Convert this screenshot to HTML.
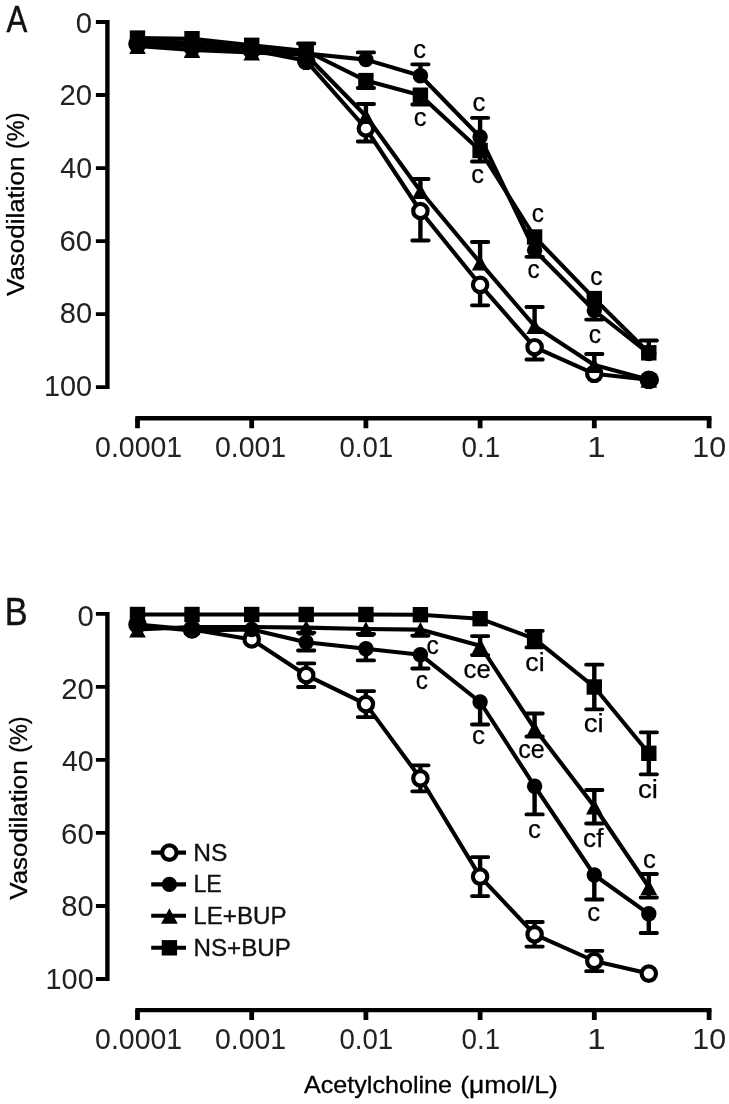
<!DOCTYPE html>
<html><head><meta charset="utf-8"><title>Vasodilation</title>
<style>html,body{margin:0;padding:0;background:#fff}svg{display:block;filter:grayscale(1) blur(0.7px)}text{font-family:"Liberation Sans",sans-serif}</style>
</head><body>
<svg width="729" height="1104" viewBox="0 0 729 1104" font-family="Liberation Sans, sans-serif" fill="#111">
<rect width="729" height="1104" fill="#fff"/>
<path d="M107.4 20.1V389.1" fill="none" stroke="#000" stroke-width="4.4"/>
<path d="M95.9 22.0H107.4M95.9 95.0H107.4M95.9 168.1H107.4M95.9 241.1H107.4M95.9 314.2H107.4M95.9 387.2H107.4" fill="none" stroke="#000" stroke-width="3.8"/>
<text x="75.86" y="32.75" font-size="29.5" textLength="16.29" lengthAdjust="spacingAndGlyphs" fill="#222">0</text>
<text x="59.53" y="105.41" font-size="29.5" textLength="32.62" lengthAdjust="spacingAndGlyphs" fill="#222">20</text>
<text x="60.34" y="178.07" font-size="29.5" textLength="31.78" lengthAdjust="spacingAndGlyphs" fill="#222">40</text>
<text x="59.50" y="250.73" font-size="29.5" textLength="32.65" lengthAdjust="spacingAndGlyphs" fill="#222">60</text>
<text x="59.75" y="323.39" font-size="29.5" textLength="32.40" lengthAdjust="spacingAndGlyphs" fill="#222">80</text>
<text x="43.90" y="396.05" font-size="29.5" textLength="48.24" lengthAdjust="spacingAndGlyphs" fill="#222">100</text>
<path d="M135.3 418.3H711.5" fill="none" stroke="#000" stroke-width="4.4"/>
<path d="M137.5 418.3V428.3M251.7 418.3V428.3M365.9 418.3V428.3M480.1 418.3V428.3M594.3 418.3V428.3M709.1 418.3V428.3" fill="none" stroke="#000" stroke-width="4.8"/>
<text x="95.09" y="457.15" font-size="29.5" textLength="87.02" lengthAdjust="spacingAndGlyphs" fill="#222">0.0001</text>
<text x="214.99" y="457.15" font-size="29.5" textLength="71.22" lengthAdjust="spacingAndGlyphs" fill="#222">0.001</text>
<text x="339.42" y="457.15" font-size="29.5" textLength="53.74" lengthAdjust="spacingAndGlyphs" fill="#222">0.01</text>
<text x="461.52" y="457.15" font-size="29.5" textLength="38.65" lengthAdjust="spacingAndGlyphs" fill="#222">0.1</text>
<text x="587.20" y="457.15" font-size="29.5" textLength="18.32" lengthAdjust="spacingAndGlyphs" fill="#222">1</text>
<text x="692.39" y="457.15" font-size="29.5" textLength="33.80" lengthAdjust="spacingAndGlyphs" fill="#222">10</text>
<text x="6.4" y="31.9" font-size="37" text-anchor="start" textLength="20.8" lengthAdjust="spacingAndGlyphs" stroke="#111" stroke-width="0.45">A</text>
<g transform="translate(24.2 295.8) rotate(-90)">
<text x="-0.13" y="0.00" font-size="23.5" textLength="139.32" lengthAdjust="spacingAndGlyphs" fill="#000" stroke="#000" stroke-width="0.3">Vasodilation</text>
<text x="146.74" y="0.00" font-size="23.5" textLength="36.52" lengthAdjust="spacingAndGlyphs" fill="#000" stroke="#000" stroke-width="0.3">(%)</text>
</g>
<path d="M365.9 128.5V141.5M420.4 211.0V240.5M480.1 284.8V305.3M534.6 347.2V359.5" fill="none" stroke="#000" stroke-width="4.4"/>
<path d="M357.7 141.5H374.1M412.2 240.5H428.6M471.9 305.3H488.3M526.4 359.5H542.8" fill="none" stroke="#000" stroke-width="3.8" stroke-linecap="round"/>
<polyline points="137.5,43.8 192.0,46.3 251.7,50.0 306.2,60.8 365.9,128.5 420.4,211.0 480.1,284.8 534.6,347.2 594.3,373.8 648.8,379.8" fill="none" stroke="#000" stroke-width="4.1" stroke-linejoin="round"/>
<circle cx="137.5" cy="43.8" r="7.2" fill="#fff" stroke="#000" stroke-width="4.2"/>
<circle cx="192.0" cy="46.3" r="7.2" fill="#fff" stroke="#000" stroke-width="4.2"/>
<circle cx="251.7" cy="50.0" r="7.2" fill="#fff" stroke="#000" stroke-width="4.2"/>
<circle cx="306.2" cy="60.8" r="7.2" fill="#fff" stroke="#000" stroke-width="4.2"/>
<circle cx="365.9" cy="128.5" r="7.2" fill="#fff" stroke="#000" stroke-width="4.2"/>
<circle cx="420.4" cy="211.0" r="7.2" fill="#fff" stroke="#000" stroke-width="4.2"/>
<circle cx="480.1" cy="284.8" r="7.2" fill="#fff" stroke="#000" stroke-width="4.2"/>
<circle cx="534.6" cy="347.2" r="7.2" fill="#fff" stroke="#000" stroke-width="4.2"/>
<circle cx="594.3" cy="373.8" r="7.2" fill="#fff" stroke="#000" stroke-width="4.2"/>
<circle cx="648.8" cy="379.8" r="7.2" fill="#fff" stroke="#000" stroke-width="4.2"/>
<path d="M306.2 53.5V43.5M365.9 59.6V52.4M420.4 75.8V64.3M480.1 137.0V117.8" fill="none" stroke="#000" stroke-width="4.4"/>
<path d="M298.0 43.5H314.4M357.7 52.4H374.1M412.2 64.3H428.6M471.9 117.8H488.3" fill="none" stroke="#000" stroke-width="3.8" stroke-linecap="round"/>
<polyline points="137.5,41.0 192.0,42.5 251.7,47.5 306.2,53.5 365.9,59.6 420.4,75.8 480.1,137.0 534.6,250.3 594.3,310.5 648.8,353.5" fill="none" stroke="#000" stroke-width="4.1" stroke-linejoin="round"/>
<circle cx="137.5" cy="41.0" r="7.7" fill="#000"/>
<circle cx="192.0" cy="42.5" r="7.7" fill="#000"/>
<circle cx="251.7" cy="47.5" r="7.7" fill="#000"/>
<circle cx="306.2" cy="53.5" r="7.7" fill="#000"/>
<circle cx="365.9" cy="59.6" r="7.7" fill="#000"/>
<circle cx="420.4" cy="75.8" r="7.7" fill="#000"/>
<circle cx="480.1" cy="137.0" r="7.7" fill="#000"/>
<circle cx="534.6" cy="250.3" r="7.7" fill="#000"/>
<circle cx="594.3" cy="310.5" r="7.7" fill="#000"/>
<circle cx="648.8" cy="353.5" r="7.7" fill="#000"/>
<path d="M365.9 116.0V104.0M420.4 191.0V179.0M480.1 262.6V242.0M534.6 326.0V307.0M594.3 365.0V354.0" fill="none" stroke="#000" stroke-width="4.4"/>
<path d="M357.7 104.0H374.1M412.2 179.0H428.6M471.9 242.0H488.3M526.4 307.0H542.8M586.1 354.0H602.5" fill="none" stroke="#000" stroke-width="3.8" stroke-linecap="round"/>
<polyline points="137.5,46.0 192.0,50.0 251.7,52.5 306.2,55.0 365.9,116.0 420.4,191.0 480.1,262.6 534.6,326.0 594.3,365.0 648.8,379.8" fill="none" stroke="#000" stroke-width="4.1" stroke-linejoin="round"/>
<path d="M137.5 38.4L145.8 54.0H129.2Z" fill="#000"/>
<path d="M192.0 42.4L200.3 58.0H183.7Z" fill="#000"/>
<path d="M251.7 44.9L260.0 60.5H243.4Z" fill="#000"/>
<path d="M306.2 47.4L314.5 63.0H297.9Z" fill="#000"/>
<path d="M365.9 108.4L374.2 124.0H357.6Z" fill="#000"/>
<path d="M420.4 183.4L428.7 199.0H412.1Z" fill="#000"/>
<path d="M480.1 255.0L488.4 270.6H471.8Z" fill="#000"/>
<path d="M534.6 318.4L542.9 334.0H526.3Z" fill="#000"/>
<path d="M594.3 357.4L602.6 373.0H586.0Z" fill="#000"/>
<path d="M648.8 372.2L657.1 387.8H640.5Z" fill="#000"/>
<path d="M365.9 80.6V88.0M420.4 95.2V104.5M480.1 150.5V161.5M534.6 237.0V256.8M594.3 298.6V319.6M648.8 352.8V340.5" fill="none" stroke="#000" stroke-width="4.4"/>
<path d="M357.7 88.0H374.1M412.2 104.5H428.6M471.9 161.5H488.3M526.4 256.8H542.8M586.1 319.6H602.5M640.6 340.5H657.0" fill="none" stroke="#000" stroke-width="3.8" stroke-linecap="round"/>
<polyline points="137.5,38.1 192.0,38.7 251.7,45.3 306.2,51.0 365.9,80.6 420.4,95.2 480.1,150.5 534.6,237.0 594.3,298.6 648.8,352.8" fill="none" stroke="#000" stroke-width="4.1" stroke-linejoin="round"/>
<rect x="129.8" y="30.4" width="15.4" height="15.4" fill="#000"/>
<rect x="184.3" y="31.0" width="15.4" height="15.4" fill="#000"/>
<rect x="244.0" y="37.6" width="15.4" height="15.4" fill="#000"/>
<rect x="298.5" y="43.3" width="15.4" height="15.4" fill="#000"/>
<rect x="358.2" y="72.9" width="15.4" height="15.4" fill="#000"/>
<rect x="412.7" y="87.5" width="15.4" height="15.4" fill="#000"/>
<rect x="472.4" y="142.8" width="15.4" height="15.4" fill="#000"/>
<rect x="526.9" y="229.3" width="15.4" height="15.4" fill="#000"/>
<rect x="586.6" y="290.9" width="15.4" height="15.4" fill="#000"/>
<rect x="641.1" y="345.1" width="15.4" height="15.4" fill="#000"/>
<circle cx="650.2" cy="379.8" r="8.8" fill="#000"/>
<circle cx="306.2" cy="60.8" r="6" fill="#000"/>
<text x="413.33" y="57.50" font-size="25.5" textLength="12.73" lengthAdjust="spacingAndGlyphs" fill="#000" stroke="#000" stroke-width="0.25">c</text>
<text x="413.73" y="126.30" font-size="25.5" textLength="12.73" lengthAdjust="spacingAndGlyphs" fill="#000" stroke="#000" stroke-width="0.25">c</text>
<text x="472.62" y="111.20" font-size="25.5" textLength="12.85" lengthAdjust="spacingAndGlyphs" fill="#000" stroke="#000" stroke-width="0.25">c</text>
<text x="471.23" y="182.50" font-size="25.5" textLength="12.73" lengthAdjust="spacingAndGlyphs" fill="#000" stroke="#000" stroke-width="0.25">c</text>
<text x="531.78" y="222.20" font-size="25.5" textLength="12.15" lengthAdjust="spacingAndGlyphs" fill="#000" stroke="#000" stroke-width="0.25">c</text>
<text x="527.48" y="278.30" font-size="25.5" textLength="12.15" lengthAdjust="spacingAndGlyphs" fill="#000" stroke="#000" stroke-width="0.25">c</text>
<text x="590.27" y="285.00" font-size="25.5" textLength="12.27" lengthAdjust="spacingAndGlyphs" fill="#000" stroke="#000" stroke-width="0.25">c</text>
<text x="588.87" y="343.00" font-size="25.5" textLength="12.27" lengthAdjust="spacingAndGlyphs" fill="#000" stroke="#000" stroke-width="0.25">c</text>
<path d="M107.4 611.9V980.9" fill="none" stroke="#000" stroke-width="4.4"/>
<path d="M95.9 613.8H107.4M95.9 686.8H107.4M95.9 759.9H107.4M95.9 832.9H107.4M95.9 906.0H107.4M95.9 979.0H107.4" fill="none" stroke="#000" stroke-width="3.8"/>
<text x="77.46" y="625.85" font-size="29.5" textLength="16.29" lengthAdjust="spacingAndGlyphs" fill="#222">0</text>
<text x="61.13" y="698.51" font-size="29.5" textLength="32.62" lengthAdjust="spacingAndGlyphs" fill="#222">20</text>
<text x="61.94" y="771.17" font-size="29.5" textLength="31.78" lengthAdjust="spacingAndGlyphs" fill="#222">40</text>
<text x="61.10" y="843.83" font-size="29.5" textLength="32.65" lengthAdjust="spacingAndGlyphs" fill="#222">60</text>
<text x="61.35" y="916.49" font-size="29.5" textLength="32.40" lengthAdjust="spacingAndGlyphs" fill="#222">80</text>
<text x="45.50" y="989.15" font-size="29.5" textLength="48.24" lengthAdjust="spacingAndGlyphs" fill="#222">100</text>
<path d="M135.3 1010.1H711.5" fill="none" stroke="#000" stroke-width="4.4"/>
<path d="M137.5 1010.1V1020.1M251.7 1010.1V1020.1M365.9 1010.1V1020.1M480.1 1010.1V1020.1M594.3 1010.1V1020.1M709.1 1010.1V1020.1" fill="none" stroke="#000" stroke-width="4.8"/>
<text x="95.09" y="1049.25" font-size="29.5" textLength="87.02" lengthAdjust="spacingAndGlyphs" fill="#222">0.0001</text>
<text x="214.99" y="1049.25" font-size="29.5" textLength="71.22" lengthAdjust="spacingAndGlyphs" fill="#222">0.001</text>
<text x="339.42" y="1049.25" font-size="29.5" textLength="53.74" lengthAdjust="spacingAndGlyphs" fill="#222">0.01</text>
<text x="461.52" y="1049.25" font-size="29.5" textLength="38.65" lengthAdjust="spacingAndGlyphs" fill="#222">0.1</text>
<text x="587.20" y="1049.25" font-size="29.5" textLength="18.32" lengthAdjust="spacingAndGlyphs" fill="#222">1</text>
<text x="692.39" y="1049.25" font-size="29.5" textLength="33.80" lengthAdjust="spacingAndGlyphs" fill="#222">10</text>
<text x="4.7" y="625" font-size="38" text-anchor="start" textLength="22.8" lengthAdjust="spacingAndGlyphs" stroke="#111" stroke-width="0.45">B</text>
<g transform="translate(26.5 899.6) rotate(-90)">
<text x="-0.13" y="0.00" font-size="23.5" textLength="139.32" lengthAdjust="spacingAndGlyphs" fill="#000" stroke="#000" stroke-width="0.3">Vasodilation</text>
<text x="146.74" y="0.00" font-size="23.5" textLength="36.52" lengthAdjust="spacingAndGlyphs" fill="#000" stroke="#000" stroke-width="0.3">(%)</text>
</g>
<path d="M306.2 675.2V663.4M306.2 675.2V687.0M365.9 704.1V691.1M365.9 704.1V717.1M420.4 778.3V765.3M420.4 778.3V791.3M480.1 876.6V857.1M480.1 876.6V896.1M534.6 934.3V922.0M534.6 934.3V946.6M594.3 961.0V950.8M594.3 961.0V971.2" fill="none" stroke="#000" stroke-width="4.4"/>
<path d="M298.0 663.4H314.4M298.0 687.0H314.4M357.7 691.1H374.1M357.7 717.1H374.1M412.2 765.3H428.6M412.2 791.3H428.6M471.9 857.1H488.3M471.9 896.1H488.3M526.4 922.0H542.8M526.4 946.6H542.8M586.1 950.8H602.5M586.1 971.2H602.5" fill="none" stroke="#000" stroke-width="3.8" stroke-linecap="round"/>
<polyline points="137.5,624.5 192.0,629.5 251.7,639.4 306.2,675.2 365.9,704.1 420.4,778.3 480.1,876.6 534.6,934.3 594.3,961.0 648.8,973.6" fill="none" stroke="#000" stroke-width="4.1" stroke-linejoin="round"/>
<circle cx="137.5" cy="624.5" r="7.2" fill="#fff" stroke="#000" stroke-width="4.2"/>
<circle cx="192.0" cy="629.5" r="7.2" fill="#fff" stroke="#000" stroke-width="4.2"/>
<circle cx="251.7" cy="639.4" r="7.2" fill="#fff" stroke="#000" stroke-width="4.2"/>
<circle cx="306.2" cy="675.2" r="7.2" fill="#fff" stroke="#000" stroke-width="4.2"/>
<circle cx="365.9" cy="704.1" r="7.2" fill="#fff" stroke="#000" stroke-width="4.2"/>
<circle cx="420.4" cy="778.3" r="7.2" fill="#fff" stroke="#000" stroke-width="4.2"/>
<circle cx="480.1" cy="876.6" r="7.2" fill="#fff" stroke="#000" stroke-width="4.2"/>
<circle cx="534.6" cy="934.3" r="7.2" fill="#fff" stroke="#000" stroke-width="4.2"/>
<circle cx="594.3" cy="961.0" r="7.2" fill="#fff" stroke="#000" stroke-width="4.2"/>
<circle cx="648.8" cy="973.6" r="7.2" fill="#fff" stroke="#000" stroke-width="4.2"/>
<path d="M306.2 642.3V650.5M365.9 648.8V660.4M420.4 654.7V668.5M480.1 702.0V724.5M534.6 786.2V814.4M594.3 875.0V899.5M648.8 913.8V933.0" fill="none" stroke="#000" stroke-width="4.4"/>
<path d="M298.0 650.5H314.4M357.7 660.4H374.1M412.2 668.5H428.6M471.9 724.5H488.3M526.4 814.4H542.8M586.1 899.5H602.5M640.6 933.0H657.0" fill="none" stroke="#000" stroke-width="3.8" stroke-linecap="round"/>
<polyline points="137.5,625.5 192.0,630.5 251.7,629.5 306.2,642.3 365.9,648.8 420.4,654.7 480.1,702.0 534.6,786.2 594.3,875.0 648.8,913.8" fill="none" stroke="#000" stroke-width="4.1" stroke-linejoin="round"/>
<circle cx="137.5" cy="625.5" r="7.7" fill="#000"/>
<circle cx="192.0" cy="630.5" r="7.7" fill="#000"/>
<circle cx="251.7" cy="629.5" r="7.7" fill="#000"/>
<circle cx="306.2" cy="642.3" r="7.7" fill="#000"/>
<circle cx="365.9" cy="648.8" r="7.7" fill="#000"/>
<circle cx="420.4" cy="654.7" r="7.7" fill="#000"/>
<circle cx="480.1" cy="702.0" r="7.7" fill="#000"/>
<circle cx="534.6" cy="786.2" r="7.7" fill="#000"/>
<circle cx="594.3" cy="875.0" r="7.7" fill="#000"/>
<circle cx="648.8" cy="913.8" r="7.7" fill="#000"/>
<path d="M306.2 627.6V632.6M365.9 629.0V634.0M420.4 629.6V635.6M480.1 645.7V636.1M480.1 645.7V655.1M534.6 728.5V713.5M534.6 728.5V736.5M594.3 806.5V790.0M594.3 806.5V823.5M648.8 887.0V874.0M648.8 887.0V897.5" fill="none" stroke="#000" stroke-width="4.4"/>
<path d="M298.0 632.6H314.4M357.7 634.0H374.1M412.2 635.6H428.6M471.9 636.1H488.3M471.9 655.1H488.3M526.4 713.5H542.8M526.4 736.5H542.8M586.1 790.0H602.5M586.1 823.5H602.5M640.6 874.0H657.0M640.6 897.5H657.0" fill="none" stroke="#000" stroke-width="3.8" stroke-linecap="round"/>
<polyline points="137.5,629.5 192.0,627.0 251.7,627.0 306.2,627.6 365.9,629.0 420.4,629.6 480.1,645.7 534.6,728.5 594.3,806.5 648.8,887.0" fill="none" stroke="#000" stroke-width="4.1" stroke-linejoin="round"/>
<path d="M137.5 621.9L145.8 637.5H129.2Z" fill="#000"/>
<path d="M192.0 619.4L200.3 635.0H183.7Z" fill="#000"/>
<path d="M251.7 619.4L260.0 635.0H243.4Z" fill="#000"/>
<path d="M306.2 620.0L314.5 635.6H297.9Z" fill="#000"/>
<path d="M365.9 621.4L374.2 637.0H357.6Z" fill="#000"/>
<path d="M420.4 622.0L428.7 637.6H412.1Z" fill="#000"/>
<path d="M480.1 638.1L488.4 653.7H471.8Z" fill="#000"/>
<path d="M534.6 720.9L542.9 736.5H526.3Z" fill="#000"/>
<path d="M594.3 798.9L602.6 814.5H586.0Z" fill="#000"/>
<path d="M648.8 879.4L657.1 895.0H640.5Z" fill="#000"/>
<path d="M534.6 638.8V630.8M534.6 638.8V647.4M594.3 687.0V664.7M594.3 687.0V709.3M648.8 753.3V732.3M648.8 753.3V774.3" fill="none" stroke="#000" stroke-width="4.4"/>
<path d="M526.4 630.8H542.8M526.4 647.4H542.8M586.1 664.7H602.5M586.1 709.3H602.5M640.6 732.3H657.0M640.6 774.3H657.0" fill="none" stroke="#000" stroke-width="3.8" stroke-linecap="round"/>
<polyline points="137.5,614.5 192.0,614.5 251.7,614.5 306.2,614.5 365.9,614.5 420.4,614.7 480.1,618.7 534.6,638.8 594.3,687.0 648.8,753.3" fill="none" stroke="#000" stroke-width="4.1" stroke-linejoin="round"/>
<rect x="129.8" y="606.8" width="15.4" height="15.4" fill="#000"/>
<rect x="184.3" y="606.8" width="15.4" height="15.4" fill="#000"/>
<rect x="244.0" y="606.8" width="15.4" height="15.4" fill="#000"/>
<rect x="298.5" y="606.8" width="15.4" height="15.4" fill="#000"/>
<rect x="358.2" y="606.8" width="15.4" height="15.4" fill="#000"/>
<rect x="412.7" y="607.0" width="15.4" height="15.4" fill="#000"/>
<rect x="472.4" y="611.0" width="15.4" height="15.4" fill="#000"/>
<rect x="526.9" y="631.1" width="15.4" height="15.4" fill="#000"/>
<rect x="586.6" y="679.3" width="15.4" height="15.4" fill="#000"/>
<rect x="641.1" y="745.6" width="15.4" height="15.4" fill="#000"/>
<text x="426.57" y="653.60" font-size="25.5" textLength="12.27" lengthAdjust="spacingAndGlyphs" fill="#000" stroke="#000" stroke-width="0.25">c</text>
<text x="415.68" y="688.60" font-size="25.5" textLength="12.15" lengthAdjust="spacingAndGlyphs" fill="#000" stroke="#000" stroke-width="0.25">c</text>
<text x="463.62" y="678.30" font-size="25.5" textLength="27.11" lengthAdjust="spacingAndGlyphs" fill="#000" stroke="#000" stroke-width="0.25">ce</text>
<text x="472.11" y="744.00" font-size="25.5" textLength="12.96" lengthAdjust="spacingAndGlyphs" fill="#000" stroke="#000" stroke-width="0.25">c</text>
<text x="518.25" y="758.00" font-size="25.5" textLength="26.46" lengthAdjust="spacingAndGlyphs" fill="#000" stroke="#000" stroke-width="0.25">ce</text>
<text x="527.92" y="838.30" font-size="25.5" textLength="12.85" lengthAdjust="spacingAndGlyphs" fill="#000" stroke="#000" stroke-width="0.25">c</text>
<text x="525.38" y="671.00" font-size="25.5" textLength="19.32" lengthAdjust="spacingAndGlyphs" fill="#000" stroke="#000" stroke-width="0.25">ci</text>
<text x="583.84" y="731.50" font-size="25.5" textLength="19.91" lengthAdjust="spacingAndGlyphs" fill="#000" stroke="#000" stroke-width="0.25">ci</text>
<text x="638.04" y="798.40" font-size="25.5" textLength="19.91" lengthAdjust="spacingAndGlyphs" fill="#000" stroke="#000" stroke-width="0.25">ci</text>
<text x="583.10" y="846.50" font-size="25.5" textLength="20.37" lengthAdjust="spacingAndGlyphs" fill="#000" stroke="#000" stroke-width="0.25">cf</text>
<text x="587.22" y="921.10" font-size="25.5" textLength="12.85" lengthAdjust="spacingAndGlyphs" fill="#000" stroke="#000" stroke-width="0.25">c</text>
<text x="643.12" y="867.60" font-size="25.5" textLength="12.85" lengthAdjust="spacingAndGlyphs" fill="#000" stroke="#000" stroke-width="0.25">c</text>
<path d="M151.2 852.6H186" stroke="#000" stroke-width="4.1"/>
<circle cx="169.4" cy="852.6" r="7.2" fill="#fff" stroke="#000" stroke-width="4.2"/>
<text x="193.28" y="860.60" font-size="24.6" textLength="34.15" lengthAdjust="spacingAndGlyphs" stroke="#111" stroke-width="0.35">NS</text>
<path d="M151.2 884.4H186" stroke="#000" stroke-width="4.1"/>
<circle cx="169.4" cy="884.4" r="7.7" fill="#000"/>
<text x="193.40" y="892.40" font-size="24.6" textLength="28.41" lengthAdjust="spacingAndGlyphs" stroke="#111" stroke-width="0.35">LE</text>
<path d="M151.2 915.8H186" stroke="#000" stroke-width="4.1"/>
<path d="M169.4 908.2L177.7 923.8H161.1Z" fill="#000"/>
<text x="193.32" y="923.80" font-size="24.6" textLength="93.16" lengthAdjust="spacingAndGlyphs" stroke="#111" stroke-width="0.35">LE+BUP</text>
<path d="M151.2 947.8H186" stroke="#000" stroke-width="4.1"/>
<rect x="161.7" y="940.1" width="15.4" height="15.4" fill="#000"/>
<text x="193.52" y="955.80" font-size="24.6" textLength="97.47" lengthAdjust="spacingAndGlyphs" stroke="#111" stroke-width="0.35">NS+BUP</text>
<text x="304.0" y="1093.2" font-size="24.5" textLength="148" lengthAdjust="spacingAndGlyphs" fill="#000" stroke="#000" stroke-width="0.3">Acetylcholine</text>
<text x="460.2" y="1093.2" font-size="24.5" textLength="97.5" lengthAdjust="spacingAndGlyphs" fill="#000" stroke="#000" stroke-width="0.3">(μmol/L)</text>
</svg>
</body></html>
